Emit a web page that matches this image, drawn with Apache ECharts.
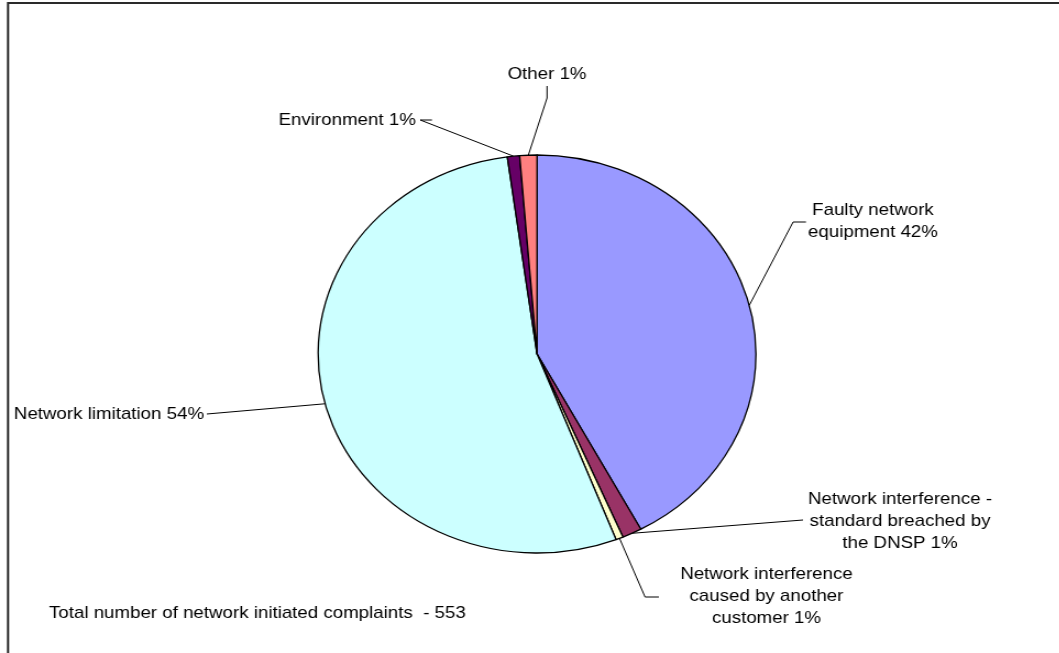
<!DOCTYPE html>
<html>
<head>
<meta charset="utf-8">
<script src="https://cdn.jsdelivr.net/npm/echarts@6/dist/echarts.min.js"></script>
<style>
  html, body { margin: 0; padding: 0; background: #fff; overflow: hidden; }
  #wrap { width: 1059px; height: 653px; overflow: hidden; position: relative; }
  /* the drawing is laid out in a narrower box and widened by 10% */
  #chart { width: 963px; height: 653px; transform: scaleX(1.1); transform-origin: 0 0; }
</style>
</head>
<body>
<div id="wrap"><div id="chart"></div></div>
<script>
// Causes of network initiated complaints (number of complaints)
const categories = [
  'Faulty network\nequipment',
  'Network interference -\nstandard breached by\nthe DNSP',
  'Network interference\ncaused by another\ncustomer',
  'Network limitation',
  'Environment',
  'Other'
];
const complaints = [233, 8, 3, 297, 5, 7];
const sliceColors = ['#9999FF', '#993366', '#FFFFCC', '#CCFFFF', '#660066', '#FF8080'];

const total = complaints.reduce((a, b) => a + b, 0);

// label anchor and leader-line bends, per slice
const labelPlace = [
  { x: 793.6, y: 221, align: 'center', bends: [[721, 222], [732.7, 222]] },
  { x: 818.2, y: 521, align: 'center', bends: [[730, 520]] },
  { x: 696.8, y: 596, align: 'center', bends: [[586.4, 597], [599, 597]] },
  { x: 185.5, y: 414, align: 'right',  bends: [[188, 414]] },
  { x: 378,   y: 120, align: 'right',  bends: [[382, 120], [392.7, 120]] },
  { x: 497.3, y: 74,  align: 'center', bends: [[497.3, 98], [497.3, 86]] }
];

const chart = echarts.init(document.getElementById('chart'), null, { renderer: 'canvas' });

const font = 'Liberation Sans, Arial, sans-serif';

chart.setOption({
  animation: false,
  backgroundColor: '#ffffff',
  graphic: [
    {
      type: 'rect',
      shape: { x: 7.3, y: 3, width: 2000, height: 2000 },
      style: { fill: 'none', stroke: '#2a2a2a', lineWidth: 2 },
      silent: true
    },
    {
      type: 'text',
      x: 44.5,
      y: 613,
      style: {
        text: 'Total number of network initiated complaints  - ' + total,
        fill: '#000',
        font: '17px ' + font,
        verticalAlign: 'middle'
      }
    }
  ],
  series: [{
    type: 'pie',
    center: [488.2, 354],
    radius: 199,
    startAngle: 90,
    clockwise: true,
    avoidLabelOverlap: false,
    percentPrecision: 0,
    data: categories.map((name, i) => ({
      name: name,
      value: complaints[i],
      itemStyle: { color: sliceColors[i] }
    })),
    itemStyle: { borderColor: '#000', borderWidth: 1.3 },
    emphasis: { disabled: true },
    label: {
      show: true,
      position: 'outside',
      formatter: p => p.name + ' ' + p.percent + '%',
      color: '#000',
      fontFamily: font,
      fontSize: 17,
      lineHeight: 22,
      align: 'center'
    },
    labelLine: {
      show: true,
      length: 20,
      length2: 10,
      smooth: false,
      lineStyle: { color: '#000', width: 1 }
    },
    labelLayout: function (params) {
      const spec = labelPlace[params.dataIndex];
      const start = params.labelLinePoints ? params.labelLinePoints[0] : null;
      const out = {
        x: spec.x,
        y: spec.y,
        align: spec.align,
        verticalAlign: 'middle'
      };
      if (start) {
        out.labelLinePoints = [start].concat(spec.bends);
      }
      return out;
    }
  }]
});
</script>
</body>
</html>
